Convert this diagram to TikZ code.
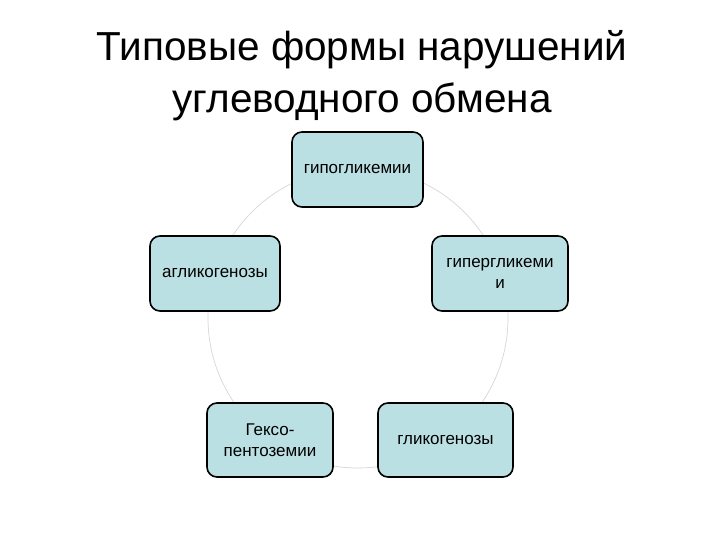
\documentclass[tikz,border=0pt]{standalone}
\usepackage{fontspec}
\setmainfont{Liberation Sans}
\begin{document}
\begin{tikzpicture}[x=1pt,y=-1pt]
\definecolor{boxfill}{RGB}{187,224,227}
\definecolor{ringgray}{RGB}{215,215,215}
\tikzset{
  box/.style={draw=black, line width=1.6pt, rounded corners=10pt, fill=boxfill,
    align=center, inner sep=0pt, font=\fontsize{17}{21.5}\selectfont},
  titletext/.style={font=\fontsize{40.5}{48}\selectfont, anchor=base, inner sep=0pt}
}
\useasboundingbox[fill=white] (0,0) rectangle (720,540);
% title
\node[titletext] (t1) at (362,61) {Типовые формы нарушений};
\node[titletext] (t2) at (362,113) {углеводного обмена};
% cycle ring
\draw[ringgray, line width=0.7pt] (358,318) circle[radius=150];
% boxes
\node[box, minimum width=131pt, minimum height=75pt] (n1) at (357.5,169.5) {гипогликемии};
\node[box, minimum width=136pt, minimum height=75pt] (n2) at (500,273.5) {гипергликеми\\и};
\node[box, minimum width=135pt, minimum height=74pt] (n3) at (445.5,440) {гликогенозы};
\node[box, minimum width=126pt, minimum height=74pt] (n4) at (270,440) {Гексо-\\пентоземии};
\node[box, minimum width=130pt, minimum height=75pt] (n5) at (215,273.5) {агликогенозы};
\end{tikzpicture}
\end{document}
